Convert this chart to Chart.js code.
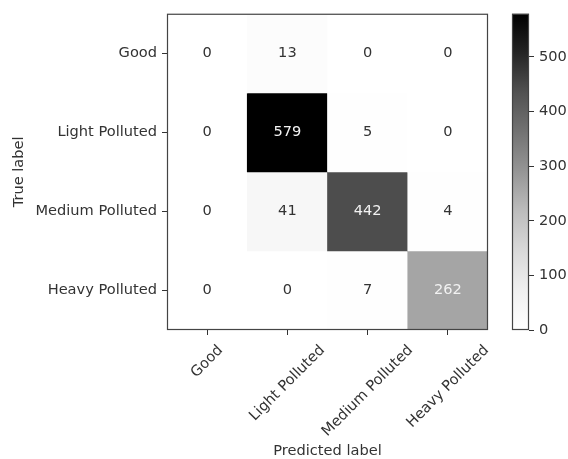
<!DOCTYPE html>
<html>
<head>
<meta charset="utf-8">
<script src="https://cdn.jsdelivr.net/npm/chart.js@4"></script>
<style>
  html, body { margin: 0; padding: 0; background: #fff; }
  #wrap { position: relative; width: 568px; height: 459px; }
  #matrix { position: absolute; left: 0; top: 0; }
  #colorbar { position: absolute; left: 500px; top: 0; }
</style>
</head>
<body>
<div id="wrap">
  <canvas id="matrix" width="568" height="459"></canvas>
  <canvas id="colorbar" width="68" height="459"></canvas>
</div>
<script>
// labels
const predictedLabels = ['Good', 'Light Polluted', 'Medium Polluted', 'Heavy Polluted'];
const trueLabels = ['Good', 'Light Polluted', 'Medium Polluted', 'Heavy Polluted'];

// confusion matrix rows (true label -> counts per predicted label)
const rowGood = [0, 13, 0, 0];
const rowLight = [0, 579, 5, 0];
const rowMedium = [0, 41, 442, 4];
const rowHeavy = [0, 0, 7, 262];

const colorbarTicks = [0, 100, 200, 300, 400, 500];

const matrix = [rowGood, rowLight, rowMedium, rowHeavy];
const vmax = Math.max(...matrix.flat());
const textThreshold = 250;

// matplotlib "Greys" colormap
const greysStops = [255, 240, 217, 189, 150, 115, 82, 37, 0];
function greys(t) {
    t = Math.min(1, Math.max(0, t));
    const p = t * 8;
    const i = Math.min(7, Math.floor(p));
    const f = p - i;
    const v = Math.round(greysStops[i] + (greysStops[i + 1] - greysStops[i]) * f);
    return `rgb(${v},${v},${v})`;
}

const FS = 14.6;
Chart.defaults.font.family = "'DejaVu Sans', sans-serif";
Chart.defaults.font.size = FS;
Chart.defaults.color = '#333';

const FONT = FS + "px 'DejaVu Sans', sans-serif";
const tickColor = '#333';

// frame around the plot area
const frame = {
    id: 'frame',
    afterDraw(chart) {
        const { ctx, chartArea: a } = chart;
        ctx.save();
        ctx.strokeStyle = '#444';
        ctx.lineWidth = 1.2;
        ctx.strokeRect(a.left + 0.5, a.top + 0.5, a.right - a.left - 1, a.bottom - a.top - 1);
        ctx.restore();
    }
};

// numbers inside the cells
const cellText = {
    id: 'cellText',
    afterDatasetsDraw(chart) {
        const ctx = chart.ctx;
        ctx.save();
        ctx.font = FONT;
        ctx.textAlign = 'center';
        ctx.textBaseline = 'middle';
        chart.data.datasets.forEach((ds, i) => {
            chart.getDatasetMeta(i).data.forEach((bar, j) => {
                const v = ds.counts[j];
                ctx.fillStyle = v > textThreshold ? '#f2f2f2' : '#333';
                ctx.fillText(String(v), bar.x, (bar.y + bar.base) / 2);
            });
        });
        ctx.restore();
    }
};

// rotated x labels, centred under each tick like matplotlib
const xLabels = {
    id: 'xLabels',
    afterDraw(chart) {
        const ctx = chart.ctx;
        const xs = chart.scales.x;
        ctx.save();
        ctx.font = FONT;
        ctx.fillStyle = '#333';
        ctx.textAlign = 'center';
        ctx.textBaseline = 'middle';
        predictedLabels.forEach((lab, i) => {
            const px = xs.getPixelForValue(i);
            const w = ctx.measureText(lab).width;
            const side = (w + FS * 1.17) * Math.SQRT1_2;
            const cy = xs.top + 12 + side / 2;
            ctx.save();
            ctx.translate(px, cy);
            ctx.rotate(-Math.PI / 4);
            ctx.fillText(lab, 0, 0);
            ctx.restore();
        });
        ctx.restore();
    }
};

new Chart(document.getElementById('matrix'), {
    type: 'bar',
    data: {
        labels: predictedLabels,
        datasets: matrix.map((row, i) => ({
            label: trueLabels[i],
            data: row.map(() => 1),
            counts: row,
            backgroundColor: row.map(v => greys(v / vmax)),
            borderWidth: 0,
            barPercentage: 1,
            categoryPercentage: 1
        }))
    },
    options: {
        responsive: false,
        animation: false,
        events: [],
        layout: { padding: { left: 0, top: 7, right: 80, bottom: 0 }, autoPadding: false },
        plugins: { legend: { display: false }, tooltip: { enabled: false } },
        scales: {
            x: {
                stacked: true,
                offset: true,
                grid: { drawOnChartArea: false, drawTicks: true, tickLength: 5, color: tickColor, offset: false },
                border: { display: false },
                ticks: { display: false },
                title: {
                    display: true, text: 'Predicted label', color: '#333',
                    font: { size: FS, lineHeight: 1 }, padding: { top: 0, bottom: 0 }
                },
                afterFit: s => { s.height = 129; }
            },
            y: {
                type: 'linear',
                stacked: true,
                reverse: true,
                min: 0,
                max: trueLabels.length,
                afterBuildTicks: s => { s.ticks = trueLabels.map((_, i) => ({ value: i + 0.5 })); },
                ticks: { callback: v => trueLabels[Math.floor(v)], padding: 5, color: '#333' },
                grid: { drawOnChartArea: false, drawTicks: true, tickLength: 5, color: tickColor },
                border: { display: false },
                title: {
                    display: true, text: 'True label', color: '#333',
                    font: { size: FS, lineHeight: 1 }, padding: { top: 12, bottom: 0 }
                },
                afterFit: s => { s.width = 167; }
            }
        }
    },
    plugins: [cellText, frame, xLabels]
});

// colorbar
new Chart(document.getElementById('colorbar'), {
    type: 'bar',
    data: {
        labels: [''],
        datasets: [{
            data: [[0, vmax]],
            backgroundColor: c => {
                const a = c.chart.chartArea;
                if (!a) return '#888';
                const g = c.chart.ctx.createLinearGradient(0, a.bottom, 0, a.top);
                greysStops.forEach((s, k) => g.addColorStop(k / 8, `rgb(${s},${s},${s})`));
                return g;
            },
            borderWidth: 0,
            barPercentage: 1,
            categoryPercentage: 1
        }]
    },
    options: {
        responsive: false,
        animation: false,
        events: [],
        layout: { padding: { left: 12, top: 7, right: 0, bottom: 129 }, autoPadding: false },
        plugins: { legend: { display: false }, tooltip: { enabled: false } },
        scales: {
            x: { display: false },
            y: {
                position: 'right',
                min: 0,
                max: vmax,
                afterBuildTicks: s => { s.ticks = colorbarTicks.map(v => ({ value: v })); },
                ticks: { padding: 5, color: '#333' },
                grid: { drawOnChartArea: false, drawTicks: true, tickLength: 5, color: tickColor },
                border: { display: false },
                afterFit: s => { s.width = 39; }
            }
        }
    },
    plugins: [frame]
});
</script>
</body>
</html>
